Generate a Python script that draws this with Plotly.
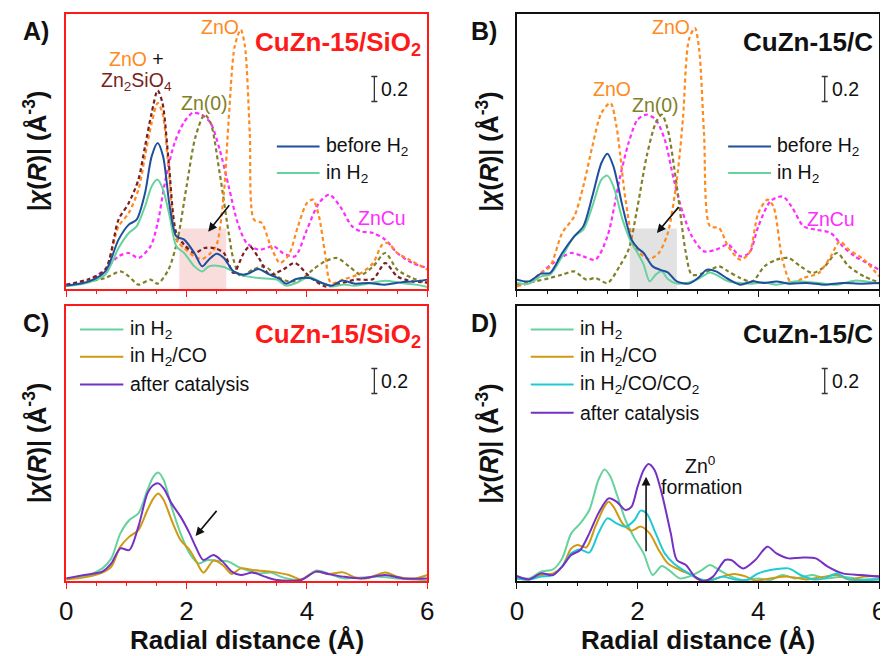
import plotly.graph_objects as go

# ---------------- data (Radial distance in Å, |chi(R)| in Å^-3) ----------------
# Panel A: CuZn-15/SiO2
A_BEFORE_X = [0, 0.38, 0.65, 0.87, 1.04, 1.17, 1.31, 1.42, 1.52, 1.61, 1.72, 1.83, 1.96, 2.13, 2.26, 2.37, 2.5, 2.62, 2.78, 2.95, 3.05, 3.19, 3.38, 3.55, 3.65, 3.82, 4.04, 4.25, 4.42, 4.58, 4.8, 5.02, 5.29, 5.56, 5.78, 6.0]
A_BEFORE_Y = [0.027, 0.061, 0.141, 0.395, 0.515, 0.555, 0.768, 1.061, 1.168, 1.061, 0.661, 0.421, 0.395, 0.288, 0.181, 0.235, 0.283, 0.248, 0.141, 0.115, 0.128, 0.16, 0.115, 0.08, 0.043, 0.08, 0.088, 0.048, 0.027, 0.067, 0.043, 0.048, 0.035, 0.053, 0.061, 0.075]
A_H2_X = [0, 0.38, 0.65, 0.87, 1.04, 1.17, 1.31, 1.42, 1.52, 1.61, 1.72, 1.83, 1.96, 2.13, 2.26, 2.37, 2.5, 2.62, 2.78, 2.95, 3.2, 3.5, 3.65, 3.82, 4.04, 4.25, 4.42, 4.6, 4.8, 5.02, 5.3, 5.56, 5.8, 6.0]
A_H2_Y = [0.021, 0.053, 0.115, 0.328, 0.448, 0.501, 0.661, 0.821, 0.875, 0.795, 0.581, 0.341, 0.288, 0.181, 0.141, 0.181, 0.187, 0.176, 0.141, 0.107, 0.088, 0.075, 0.027, 0.048, 0.096, 0.048, 0.021, 0.035, 0.027, 0.043, 0.067, 0.048, 0.035, 0.016]
A_ZNSIO_X = [0, 0.38, 0.65, 0.87, 1.04, 1.2, 1.31, 1.42, 1.52, 1.6, 1.7, 1.83, 1.96, 2.13, 2.3, 2.45, 2.62, 2.78, 2.95, 3.05, 3.2, 3.38, 3.6, 3.8, 4.04, 4.3, 4.5, 4.8, 5.1, 5.3, 5.5, 5.75, 6.0]
A_ZNSIO_Y = [0.035, 0.08, 0.155, 0.555, 0.688, 0.875, 1.141, 1.408, 1.589, 1.488, 1.035, 0.448, 0.355, 0.288, 0.328, 0.328, 0.288, 0.128, 0.288, 0.341, 0.248, 0.115, 0.155, 0.208, 0.101, 0.021, 0.035, 0.075, 0.08, 0.208, 0.101, 0.061, 0.053]
A_ZNO_X = [0, 0.38, 0.65, 0.87, 1.04, 1.2, 1.31, 1.42, 1.52, 1.6, 1.7, 1.83, 1.96, 2.13, 2.26, 2.4, 2.5, 2.62, 2.7, 2.8, 2.9, 2.97, 3.05, 3.12, 3.25, 3.38, 3.55, 3.7, 3.85, 4.0, 4.1, 4.2, 4.3, 4.4, 4.6, 4.9, 5.1, 5.25, 5.35, 5.5, 5.7, 6.0]
A_ZNO_Y = [0.027, 0.069, 0.155, 0.501, 0.608, 0.795, 1.061, 1.328, 1.488, 1.408, 0.981, 0.395, 0.328, 0.261, 0.24, 0.288, 0.355, 0.768, 1.355, 1.941, 2.075, 1.941, 1.248, 0.555, 0.528, 0.368, 0.208, 0.275, 0.501, 0.688, 0.715, 0.581, 0.288, 0.048, 0.075, 0.128, 0.208, 0.355, 0.368, 0.288, 0.235, 0.155]
A_ZNCU_X = [0, 0.38, 0.65, 0.87, 1.04, 1.2, 1.4, 1.52, 1.65, 1.8, 1.95, 2.1, 2.25, 2.4, 2.55, 2.7, 2.85, 3.0, 3.2, 3.45, 3.6, 3.8, 4.0, 4.2, 4.37, 4.55, 4.75, 4.9, 5.1, 5.3, 5.5, 5.75, 6.0]
A_ZNCU_Y = [0.027, 0.069, 0.16, 0.261, 0.288, 0.248, 0.341, 0.528, 0.875, 1.168, 1.328, 1.408, 1.395, 1.328, 1.115, 0.821, 0.528, 0.368, 0.315, 0.341, 0.288, 0.261, 0.475, 0.688, 0.755, 0.661, 0.501, 0.461, 0.448, 0.395, 0.288, 0.208, 0.168]
A_ZN0_X = [0, 0.38, 0.65, 0.9, 1.04, 1.2, 1.4, 1.52, 1.7, 1.85, 2.0, 2.15, 2.3, 2.4, 2.55, 2.7, 2.78, 2.9, 3.1, 3.3, 3.5, 3.7, 3.9, 4.1, 4.3, 4.5, 4.7, 4.9, 5.1, 5.3, 5.5, 5.75, 6.0]
A_ZN0_Y = [0.027, 0.061, 0.088, 0.141, 0.101, 0.035, 0.075, 0.043, 0.155, 0.395, 0.821, 1.221, 1.395, 1.328, 0.928, 0.448, 0.235, 0.101, 0.155, 0.181, 0.101, 0.061, 0.075, 0.155, 0.221, 0.248, 0.181, 0.115, 0.181, 0.288, 0.155, 0.088, 0.048]

# Panel B: CuZn-15/C
B_BEFORE_X = [0, 0.2, 0.4, 0.55, 0.75, 0.95, 1.1, 1.25, 1.4, 1.5, 1.6, 1.75, 1.9, 2.0, 2.1, 2.25, 2.4, 2.5, 2.65, 2.85, 3.0, 3.15, 3.3, 3.5, 3.7, 3.9, 4.1, 4.3, 4.5, 4.8, 5.1, 5.4, 5.7, 6.0]
B_BEFORE_Y = [0.075, 0.061, 0.123, 0.128, 0.288, 0.421, 0.501, 0.741, 1.008, 1.083, 0.981, 0.661, 0.395, 0.328, 0.288, 0.181, 0.149, 0.133, 0.061, 0.043, 0.088, 0.155, 0.141, 0.08, 0.035, 0.061, 0.048, 0.061, 0.043, 0.048, 0.035, 0.048, 0.043, 0.048]
B_H2_X = [0, 0.2, 0.4, 0.55, 0.75, 0.95, 1.1, 1.25, 1.4, 1.5, 1.6, 1.75, 1.9, 2.0, 2.1, 2.2, 2.3, 2.4, 2.5, 2.65, 2.85, 3.0, 3.2, 3.35, 3.5, 3.7, 3.9, 4.1, 4.3, 4.6, 5.0, 5.3, 5.6, 6.0]
B_H2_Y = [0.048, 0.043, 0.101, 0.115, 0.261, 0.421, 0.475, 0.661, 0.875, 0.907, 0.821, 0.555, 0.368, 0.288, 0.195, 0.061, 0.115, 0.141, 0.08, 0.043, 0.053, 0.08, 0.133, 0.101, 0.061, 0.048, 0.043, 0.053, 0.035, 0.061, 0.048, 0.035, 0.067, 0.043]
B_ZNO_X = [0, 0.2, 0.4, 0.55, 0.75, 0.95, 1.1, 1.25, 1.4, 1.55, 1.65, 1.8, 1.95, 2.1, 2.2, 2.35, 2.5, 2.65, 2.75, 2.85, 2.95, 3.02, 3.1, 3.2, 3.35, 3.5, 3.7, 3.85, 4.0, 4.15, 4.25, 4.4, 4.55, 4.75, 5.0, 5.2, 5.35, 5.5, 5.75, 6.0]
B_ZNO_Y = [0.021, 0.053, 0.128, 0.181, 0.448, 0.581, 0.821, 1.141, 1.408, 1.488, 1.301, 0.715, 0.341, 0.261, 0.24, 0.288, 0.448, 0.875, 1.355, 1.995, 2.088, 1.915, 1.248, 0.501, 0.488, 0.341, 0.235, 0.288, 0.608, 0.715, 0.661, 0.235, 0.048, 0.088, 0.128, 0.261, 0.381, 0.315, 0.235, 0.101]
B_ZNCU_X = [0, 0.2, 0.4, 0.6, 0.9, 1.1, 1.3, 1.5, 1.7, 1.85, 2.0, 2.15, 2.3, 2.45, 2.6, 2.75, 2.9, 3.1, 3.3, 3.5, 3.7, 3.85, 4.0, 4.2, 4.4, 4.55, 4.75, 4.95, 5.2, 5.4, 5.6, 5.8, 6.0]
B_ZNCU_Y = [0.027, 0.048, 0.128, 0.208, 0.288, 0.261, 0.235, 0.421, 0.875, 1.168, 1.355, 1.395, 1.355, 1.195, 0.875, 0.608, 0.421, 0.301, 0.315, 0.355, 0.261, 0.288, 0.501, 0.701, 0.741, 0.661, 0.501, 0.475, 0.448, 0.341, 0.261, 0.208, 0.155]
B_ZN0_X = [0, 0.3, 0.55, 0.75, 0.95, 1.15, 1.3, 1.5, 1.7, 1.85, 2.0, 2.15, 2.3, 2.4, 2.5, 2.65, 2.8, 2.9, 3.1, 3.35, 3.5, 3.7, 3.9, 4.1, 4.3, 4.5, 4.7, 4.9, 5.1, 5.3, 5.5, 5.75, 6.0]
B_ZN0_Y = [0.035, 0.061, 0.088, 0.115, 0.141, 0.075, 0.088, 0.048, 0.181, 0.315, 0.661, 1.061, 1.328, 1.395, 1.275, 0.821, 0.288, 0.115, 0.128, 0.181, 0.141, 0.088, 0.061, 0.181, 0.235, 0.248, 0.181, 0.128, 0.181, 0.288, 0.181, 0.101, 0.053]

# Panel C: CuZn-15/SiO2
C_H2_X = [0, 0.3, 0.6, 0.75, 0.9, 1.05, 1.2, 1.35, 1.45, 1.53, 1.62, 1.75, 1.9, 2.05, 2.2, 2.35, 2.5, 2.7, 2.85, 3.0, 3.2, 3.4, 3.6, 3.9, 4.15, 4.35, 4.6, 4.9, 5.2, 5.5, 5.8, 6.0]
C_H2_Y = [0.021, 0.035, 0.101, 0.181, 0.381, 0.488, 0.541, 0.728, 0.835, 0.867, 0.808, 0.595, 0.381, 0.221, 0.141, 0.168, 0.163, 0.155, 0.115, 0.088, 0.061, 0.067, 0.029, 0.008, 0.083, 0.061, 0.021, 0.029, 0.035, 0.021, 0.013, 0.003]
C_CO_X = [0, 0.3, 0.6, 0.75, 0.9, 1.05, 1.2, 1.35, 1.45, 1.53, 1.62, 1.75, 1.9, 2.05, 2.15, 2.28, 2.45, 2.6, 2.75, 2.9, 3.1, 3.4, 3.7, 3.9, 4.15, 4.35, 4.6, 4.8, 5.0, 5.3, 5.5, 5.8, 6.0]
C_CO_Y = [0.013, 0.029, 0.067, 0.115, 0.275, 0.355, 0.408, 0.568, 0.661, 0.701, 0.648, 0.488, 0.328, 0.248, 0.168, 0.067, 0.163, 0.128, 0.056, 0.101, 0.088, 0.075, 0.048, 0.013, 0.075, 0.056, 0.069, 0.029, 0.021, 0.069, 0.035, 0.021, 0.048]
C_CAT_X = [0, 0.3, 0.6, 0.75, 0.9, 1.05, 1.2, 1.35, 1.45, 1.53, 1.62, 1.75, 1.9, 2.05, 2.15, 2.28, 2.45, 2.6, 2.75, 2.9, 3.1, 3.3, 3.5, 3.9, 4.15, 4.35, 4.6, 4.9, 5.3, 5.6, 6.0]
C_CAT_Y = [0.021, 0.048, 0.075, 0.141, 0.261, 0.248, 0.435, 0.701, 0.768, 0.781, 0.741, 0.621, 0.515, 0.381, 0.275, 0.168, 0.208, 0.155, 0.075, 0.048, 0.067, 0.035, 0.008, 0.008, 0.075, 0.056, 0.035, 0.021, 0.048, 0.021, 0.021]

# Panel D: CuZn-15/C
D_H2_X = [0, 0.2, 0.4, 0.6, 0.75, 0.9, 1.05, 1.2, 1.35, 1.45, 1.55, 1.65, 1.8, 1.95, 2.1, 2.25, 2.4, 2.55, 2.7, 2.85, 3.05, 3.2, 3.35, 3.55, 3.75, 4.0, 4.2, 4.4, 4.6, 4.9, 5.1, 5.4, 5.7, 6.0]
D_H2_Y = [0.035, 0.021, 0.075, 0.093, 0.181, 0.381, 0.461, 0.568, 0.808, 0.893, 0.835, 0.701, 0.488, 0.341, 0.221, 0.048, 0.12, 0.075, 0.021, 0.035, 0.083, 0.128, 0.088, 0.035, 0.008, 0.021, 0.008, 0.048, 0.021, 0.048, 0.021, 0.035, 0.013, 0.021]
D_CO_X = [0, 0.2, 0.4, 0.6, 0.75, 0.9, 1.0, 1.15, 1.3, 1.45, 1.52, 1.6, 1.75, 1.9, 2.05, 2.2, 2.35, 2.5, 2.7, 2.9, 3.0, 3.2, 3.4, 3.6, 3.8, 3.95, 4.2, 4.5, 4.8, 5.1, 5.3, 5.5, 5.75, 6.0]
D_CO_Y = [0.021, 0.013, 0.048, 0.061, 0.115, 0.261, 0.288, 0.269, 0.435, 0.595, 0.635, 0.595, 0.461, 0.403, 0.435, 0.381, 0.248, 0.141, 0.088, 0.048, 0.013, 0.008, 0.035, 0.056, 0.035, 0.003, 0.021, 0.035, 0.013, 0.035, 0.048, 0.013, 0.035, 0.04]
D_CO2_X = [0, 0.2, 0.4, 0.6, 0.75, 0.9, 1.05, 1.2, 1.35, 1.5, 1.65, 1.8, 1.95, 2.05, 2.15, 2.3, 2.45, 2.6, 2.8, 3.0, 3.2, 3.4, 3.6, 3.8, 4.0, 4.2, 4.5, 4.7, 4.9, 5.1, 5.3, 5.5, 6.0]
D_CO2_Y = [0.021, 0.013, 0.035, 0.048, 0.115, 0.221, 0.253, 0.227, 0.381, 0.501, 0.461, 0.435, 0.488, 0.563, 0.541, 0.381, 0.221, 0.141, 0.075, 0.021, 0.003, 0.035, 0.013, 0.008, 0.061, 0.088, 0.101, 0.048, 0.013, 0.021, 0.061, 0.013, 0.013]
D_CAT_X = [0, 0.2, 0.4, 0.6, 0.75, 0.9, 1.05, 1.2, 1.35, 1.52, 1.65, 1.8, 1.9, 2.0, 2.1, 2.18, 2.28, 2.4, 2.55, 2.65, 2.8, 2.95, 3.1, 3.25, 3.45, 3.55, 3.75, 3.95, 4.15, 4.3, 4.5, 4.7, 4.95, 5.15, 5.4, 5.7, 6.0]
D_CAT_Y = [0.04, 0.013, 0.061, 0.048, 0.115, 0.208, 0.248, 0.381, 0.541, 0.661, 0.635, 0.568, 0.595, 0.755, 0.888, 0.936, 0.888, 0.701, 0.381, 0.168, 0.128, 0.035, 0.0, 0.035, 0.168, 0.168, 0.101, 0.168, 0.275, 0.221, 0.181, 0.187, 0.181, 0.115, 0.061, 0.048, 0.035]

TICK_VALUES = [0, 2, 4, 6]
TICK_LABELS = ["0", "2", "4", "6"]
PANEL_LETTERS = ["A)", "B)", "C)", "D)"]
PANEL_TITLES = ["CuZn-15/SiO<sub>2</sub>", "CuZn-15/C", "CuZn-15/SiO<sub>2</sub>", "CuZn-15/C"]
SCALE_BAR_VALUE = 0.2

# ---------------- styles ----------------
FONT = "Liberation Sans, Arial, sans-serif"
C_BLUE = "#1f4f9c"
C_GREEN = "#66d29e"
C_MAROON = "#7a1f22"
C_ORANGE = "#ff8a1e"
C_MAGENTA = "#ff2cff"
C_OLIVE = "#808028"
C_GOLD = "#cf9a12"
C_PURPLE = "#7530c4"
C_CYAN = "#1ecad4"
RED = "#ff1a1a"

# the page body has an 8 px margin: the figure is drawn 8 px in from the window's corner
OFF = 8
W, H = 888 - OFF, 656 - OFF

def px2x(px):
    return (px - OFF) / W

def px2y(py):
    return 1 - (py - OFF) / H

panels = {
    # name: (left px, right px, top px, bottom px, frame color) in window pixels
    "A": (60, 427, 14, 289, RED),
    "B": (518, 886, 14, 289, "#111111"),
    "C": (60, 427, 306, 581, RED),
    "D": (518, 886, 306, 581, "#111111"),
}
axis_ids = {"A": "", "B": "2", "C": "3", "D": "4"}

fig = go.Figure()

def add_line(panel, xs, ys, color, dash=None, width=2.0):
    i = axis_ids[panel]
    fig.add_trace(go.Scatter(
        x=xs, y=ys, mode="lines", xaxis="x" + i, yaxis="y" + i,
        line=dict(color=color, width=width, dash=dash, shape="spline", smoothing=0.8),
        showlegend=False, hoverinfo="skip"))

DASH = "4px,3px"
DW = 2.2
# A
add_line("A", A_ZNCU_X, A_ZNCU_Y, C_MAGENTA, DASH, DW)
add_line("A", A_ZN0_X, A_ZN0_Y, C_OLIVE, DASH, DW)
add_line("A", A_ZNO_X, A_ZNO_Y, C_ORANGE, DASH, DW)
add_line("A", A_ZNSIO_X, A_ZNSIO_Y, C_MAROON, DASH, DW)
add_line("A", A_H2_X, A_H2_Y, C_GREEN)
add_line("A", A_BEFORE_X, A_BEFORE_Y, C_BLUE)
# B
add_line("B", B_ZNCU_X, B_ZNCU_Y, C_MAGENTA, DASH, DW)
add_line("B", B_ZN0_X, B_ZN0_Y, C_OLIVE, DASH, DW)
add_line("B", B_ZNO_X, B_ZNO_Y, C_ORANGE, DASH, DW)
add_line("B", B_H2_X, B_H2_Y, C_GREEN)
add_line("B", B_BEFORE_X, B_BEFORE_Y, C_BLUE)
# C
add_line("C", C_H2_X, C_H2_Y, C_GREEN)
add_line("C", C_CO_X, C_CO_Y, C_GOLD)
add_line("C", C_CAT_X, C_CAT_Y, C_PURPLE)
# D
add_line("D", D_H2_X, D_H2_Y, C_GREEN)
add_line("D", D_CO_X, D_CO_Y, C_GOLD)
add_line("D", D_CO2_X, D_CO2_Y, C_CYAN)
add_line("D", D_CAT_X, D_CAT_Y, C_PURPLE)

layout = dict(
    width=W, height=H, margin=dict(l=0, r=0, t=0, b=0),
    paper_bgcolor="white", plot_bgcolor="white",
    font=dict(family=FONT, color="#111111"),
    showlegend=False,
)
for name, (x0, x1, y0, y1, col) in panels.items():
    i = axis_ids[name]
    bottom = name in ("C", "D")
    layout["xaxis" + i] = dict(
        domain=[px2x(x0), px2x(x1)], anchor="y" + i, range=[0, 6],
        showline=True, mirror=True, linecolor=col, linewidth=1.5,
        showgrid=False, zeroline=False,
        tickmode="array", tickvals=TICK_VALUES, ticktext=TICK_LABELS,
        ticks="outside", ticklen=6, tickwidth=1.3, tickcolor=col,
        showticklabels=bottom, tickfont=dict(size=26, color="#111111"),
        minor=dict(ticks="outside", dtick=0.5, tick0=0, ticklen=3, tickwidth=1.3, tickcolor=col),
    )
    layout["yaxis" + i] = dict(
        domain=[px2y(y1), px2y(y0)], anchor="x" + i, range=[0, 2.2],
        showline=True, mirror=True, linecolor=col, linewidth=1.5,
        showgrid=False, zeroline=False, showticklabels=False, ticks="",
    )
fig.update_layout(**layout)

shapes = []
annotations = []

def ax(panel):
    i = axis_ids[panel]
    return "x" + i, "y" + i

# shaded regions
xr, yr = ax("A")
shapes.append(dict(type="rect", xref=xr, yref=yr, x0=1.88, x1=2.66, y0=0, y1=0.485,
                   fillcolor="#f9dcdc", line=dict(width=0), layer="below"))
xr, yr = ax("B")
shapes.append(dict(type="rect", xref=xr, yref=yr, x0=1.87, x1=2.65, y0=0, y1=0.485,
                   fillcolor="#e2e2e2", line=dict(width=0), layer="below"))

# scale bars
for name, xb in (("A", 5.12), ("B", 5.10), ("C", 5.12), ("D", 5.10)):
    xr, yr = ax(name)
    y0b, y1b = 1.5, 1.5 + SCALE_BAR_VALUE
    c = 0.05
    path = (f"M {xb - c},{y0b} L {xb + c},{y0b} M {xb},{y0b} L {xb},{y1b} "
            f"M {xb - c},{y1b} L {xb + c},{y1b}")
    shapes.append(dict(type="path", xref=xr, yref=yr, path=path,
                       line=dict(color="#333333", width=1.3)))
    annotations.append(dict(xref=xr, yref=yr, x=xb + 0.08, y=1.6, text=str(SCALE_BAR_VALUE),
                            showarrow=False, xanchor="left", yanchor="middle",
                            font=dict(size=19.5, color="#111111")))

# legends (drawn manually)
def legend(panel, entries, xl0, xl1, xt, ys):
    xr, yr = ax(panel)
    for (label, color), yy in zip(entries, ys):
        shapes.append(dict(type="line", xref=xr, yref=yr, x0=xl0, x1=xl1, y0=yy, y1=yy,
                           line=dict(color=color, width=2)))
        annotations.append(dict(xref=xr, yref=yr, x=xt, y=yy, text=label, showarrow=False,
                                xanchor="left", yanchor="middle",
                                font=dict(size=19.5, color="#111111")))

legend("A", [("before H<sub>2</sub>", C_BLUE), ("in H<sub>2</sub>", C_GREEN)], 3.5, 4.21, 4.28, [1.141, 0.928])
legend("B", [("before H<sub>2</sub>", C_BLUE), ("in H<sub>2</sub>", C_GREEN)], 3.5, 4.21, 4.27, [1.141, 0.928])
legend("C", [("in H<sub>2</sub>", C_GREEN), ("in H<sub>2</sub>/CO", C_GOLD), ("after catalysis", C_PURPLE)],
       0.23, 0.95, 1.02, [2.013, 1.795, 1.573])
legend("D", [("in H<sub>2</sub>", C_GREEN), ("in H<sub>2</sub>/CO", C_GOLD),
             ("in H<sub>2</sub>/CO/CO<sub>2</sub>", C_CYAN), ("after catalysis", C_PURPLE)],
       0.23, 0.94, 1.01, [2.013, 1.795, 1.573, 1.347])

# species labels
def label(panel, x, y, text, color, size=19.5):
    xr, yr = ax(panel)
    annotations.append(dict(xref=xr, yref=yr, x=x, y=y, text=text, showarrow=False,
                            xanchor="center", yanchor="middle", font=dict(size=size, color=color)))

label("A", 2.56, 2.1, "ZnO", C_ORANGE)
label("A", 1.17, 1.84, f"<span style='color:{C_ORANGE}'>ZnO</span> +", "#111111")
label("A", 1.17, 1.66, "Zn<sub>2</sub>SiO<sub>4</sub>", C_MAROON)
label("A", 2.29, 1.49, "Zn(0)", C_OLIVE)
label("A", 5.24, 0.57, "ZnCu", C_MAGENTA)
label("B", 2.55, 2.1, "ZnO", C_ORANGE)
label("B", 1.57, 1.6, "ZnO", C_ORANGE)
label("B", 2.30, 1.47, "Zn(0)", C_OLIVE)
label("B", 5.21, 0.56, "ZnCu", C_MAGENTA)
label("D", 3.04, 0.93, "Zn<sup>0</sup>", "#111111")
label("D", 3.06, 0.755, "formation", "#111111")

# arrows
def arrow(panel, x_tail, y_tail, x_head, y_head):
    xr, yr = ax(panel)
    annotations.append(dict(xref=xr, yref=yr, axref=xr, ayref=yr, x=x_head, y=y_head,
                            ax=x_tail, ay=y_tail, text="", showarrow=True,
                            arrowhead=2, arrowsize=1.1, arrowwidth=1.6, arrowcolor="#111111"))

arrow("A", 2.73, 0.683, 2.36, 0.459)
arrow("B", 2.70, 0.667, 2.32, 0.448)
arrow("C", 2.52, 0.573, 2.15, 0.36)
arrow("D", 2.14, 0.227, 2.14, 0.835)

# panel letters, titles, axis titles
for name, letter, title in zip(["A", "B", "C", "D"], PANEL_LETTERS, PANEL_TITLES):
    x0, x1, y0, y1, col = panels[name]
    lx = 29 if x0 < 300 else 485
    annotations.append(dict(xref="paper", yref="paper", x=px2x(lx), y=px2y(y0 + 17),
                            text=f"<b>{letter}</b>", showarrow=False, xanchor="center",
                            yanchor="middle", font=dict(size=25, color="#111111")))
    annotations.append(dict(xref="paper", yref="paper", x=px2x(x1 - 4), y=px2y(y0 + 11),
                            text=f"<b>{title}</b>", showarrow=False, xanchor="right",
                            yanchor="top", font=dict(size=26, color=col if col == RED else "#111111")))
    ytx = 28 if x0 < 300 else 488
    annotations.append(dict(xref="paper", yref="paper", x=px2x(ytx), y=px2y((y0 + y1) / 2),
                            text="<b>|<i>χ</i>(<i>R</i>)| (Å<sup>-3</sup>)</b>", showarrow=False,
                            textangle=-90, xanchor="center", yanchor="middle",
                            font=dict(size=25, color="#111111")))
    if name in ("C", "D"):
        annotations.append(dict(xref="paper", yref="paper", x=px2x((x0 + x1) / 2), y=0,
                                text="<b>Radial distance (Å)</b>", showarrow=False,
                                xanchor="center", yanchor="bottom", borderpad=0,
                                font=dict(size=26, color="#111111")))

fig.update_layout(shapes=shapes, annotations=annotations)
fig.write_html("out.html")
